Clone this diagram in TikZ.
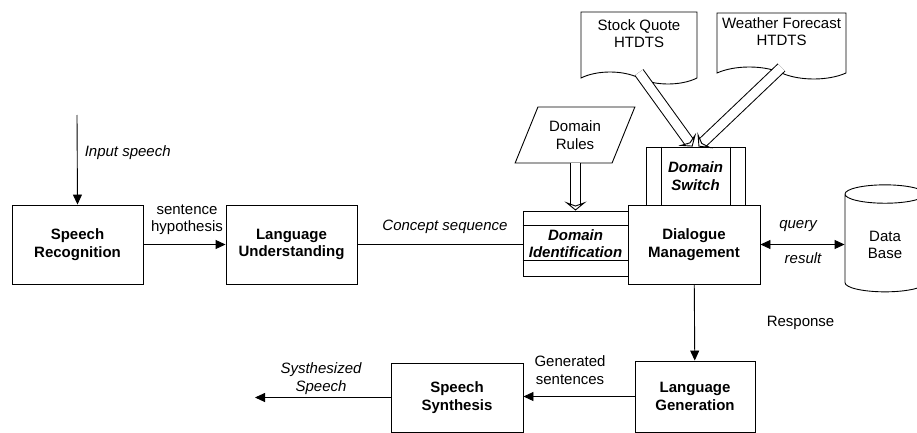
\documentclass[tikz,border=0pt]{standalone}
\usepackage{fontspec}
\setmainfont{Liberation Sans}
\usetikzlibrary{shapes.geometric, shapes.symbols, positioning, arrows.meta}

\begin{document}
\begin{tikzpicture}[
    x=1pt, y=-1pt,
    line width=0.9pt,
    >={Triangle[length=10pt, width=9pt]},
    box/.style={draw, rectangle, fill=white, align=center, font=\fontsize{15}{17.5}\selectfont\bfseries},
    doc/.style={draw, tape, tape bend top=none, tape bend bottom=out and in, tape bend height=12pt, align=center, text depth=17pt, font=\fontsize{15}{17.5}\selectfont},
    lbl/.style={align=center, font=\fontsize{15}{17.5}\selectfont},
    ilbl/.style={align=center, font=\fontsize{15}{17.5}\selectfont\itshape},
    hollow/.style={double, double distance=9pt, line width=1pt, -{Stealth[open, line width=0.9pt, length=9pt, width=22pt, inset=4pt]}}
]
    \useasboundingbox (0,0) rectangle (917,433);

    % Front end
    \node[box, minimum width=131pt, minimum height=79pt] (sr) at (77.5,244.5) {Speech\\Recognition};
    \node[box, minimum width=131pt, minimum height=79pt] (lu) at (291.5,244.5) {Language\\Understanding};

    % Domain Identification
    \node[box, font=\fontsize{15}{17.5}\selectfont\bfseries\itshape, minimum width=105pt, minimum height=65pt] (di) at (575.5,243.5) {Domain\\Identification};
    \draw ([yshift=-15pt]di.north west) -- ([yshift=-15pt]di.north east);
    \draw ([yshift=16pt]di.south west) -- ([yshift=16pt]di.south east);

    % Domain Switch
    \node[box, font=\fontsize{15}{17.5}\selectfont\bfseries\itshape, minimum width=99pt, minimum height=58pt] (ds) at (695.5,176) {Domain\\Switch};
    \draw ([xshift=16pt]ds.north west) -- ([xshift=16pt]ds.south west);
    \draw ([xshift=-15pt]ds.north east) -- ([xshift=-15pt]ds.south east);

    % Dialogue Management
    \node[box, minimum width=132pt, minimum height=79pt] (dm) at (694,244.5) {Dialogue\\Management};

    % Rules, documents and data base
    \node[draw, trapezium, trapezium left angle=63, trapezium right angle=117, trapezium stretches, minimum width=120pt, minimum height=56pt, lbl] (dr) at (575,135) {Domain\\Rules};
    \node[doc, minimum width=116pt, minimum height=72pt] (sq) at (639,42) {Stock Quote\\HTDTS};
    \node[doc, minimum width=129pt, minimum height=66pt] (wf) at (781.5,40) {Weather Forecast\\HTDTS};
    \node[draw, cylinder, shape border rotate=90, aspect=0.45, minimum width=80pt, minimum height=107pt, lbl] (db) at (885,245) {Data\\Base};

    % Back end
    \node[box, minimum width=120pt, minimum height=71pt] (lg) at (695,396.5) {Language\\Generation};
    \node[box, minimum width=132pt, minimum height=69pt] (ss) at (457,397.5) {Speech\\Synthesis};

    \coordinate (in) at (77,115);
    \coordinate (out) at (255,398);

    % Connectors
    \draw[->] (in) -- (sr.north);
    \node[ilbl, anchor=west] (inlbl) at (81,153) {Input speech};
    \draw[->] (sr) -- (lu);
    \node[lbl] (hyp) at (187,219.5) {sentence\\hypothesis};
    \draw (lu.east) -- (lu.east -| di.west);
    \node[ilbl] (concept) at (445,227) {Concept sequence};
    \draw[hollow] (dr.south -| di.north) -- (di.north);
    \draw[hollow] (sq.south) -- ([xshift=-3pt]ds.north);
    \draw[hollow] (wf.south) -- ([xshift=3pt]ds.north);
    \draw[<->] (dm.east) -- (dm.east -| db.west);
    \node[ilbl] (query) at (798,226) {query};
    \node[ilbl] (result) at (803,258) {result};
    \draw[->] (dm) -- (lg);
    \node[lbl, anchor=west] (resp) at (763,323) {Response};
    \draw[->] (lg.west) -- (lg.west -| ss.east);
    \node[lbl] (gen) at (570,370) {Generated\\sentences};
    \draw[->] (ss.west) -- (ss.west -| out);
    \node[ilbl] (synth) at (321,378.5) {Systhesized\\Speech};
\end{tikzpicture}
\end{document}
